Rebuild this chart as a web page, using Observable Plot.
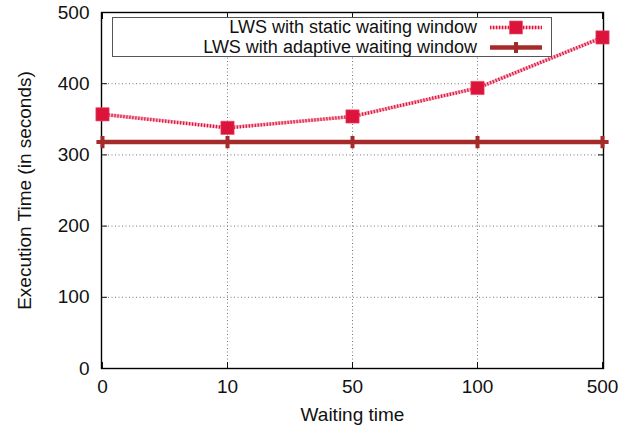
<!DOCTYPE html>
<html>
<head>
<meta charset="utf-8">
<script src="https://cdn.jsdelivr.net/npm/d3@7"></script>
<script src="https://cdn.jsdelivr.net/npm/@observablehq/plot@0.6"></script>
<style>
  html, body { margin: 0; padding: 0; background: #fff; }
  #wrap { position: relative; width: 619px; height: 430px; font-family: "Liberation Sans", Arial, sans-serif; }
  #legend { position: absolute; left: 112px; top: 17px; width: 440px; height: 40px; border: 1px solid #555; background: #fff; box-sizing: border-box; }
  .row { position: absolute; right: 74px; font-size: 18px; color: #111; white-space: nowrap; line-height: 19px; }
  .sw { position: absolute; }
</style>
</head>
<body>
<div id="wrap"></div>
<script>
const categories = ["0", "10", "50", "100", "500"];
const staticVals = [357, 338, 354, 394, 465];
const adaptiveVals = [318, 318, 318, 318, 318];
const yTicks = [0, 100, 200, 300, 400, 500];
const seriesNames = ["LWS with static waiting window", "LWS with adaptive waiting window"];

const staticColor = "#dc143c";
const staticLight = "#f7b0c0";
const adaptiveColor = "#a52a2a";

const staticData = categories.map((c, i) => ({x: c, y: staticVals[i]}));
const adaptiveData = categories.map((c, i) => ({x: c, y: adaptiveVals[i]}));

const font = "Liberation Sans, Arial, sans-serif";

const chart = Plot.plot({
  width: 619,
  height: 430,
  marginLeft: 101,
  marginRight: 16,
  marginTop: 12,
  marginBottom: 62,
  style: {fontFamily: font, fontSize: "19px", color: "#111", background: "#fff"},
  x: {type: "point", domain: categories, padding: 0, label: null},
  y: {domain: [0, 500], label: null},
  marks: [
    Plot.gridY(yTicks.slice(1, -1), {stroke: "#777", strokeOpacity: 1, strokeDasharray: "1,2.5"}),
    Plot.gridX(categories.slice(1, -1), {stroke: "#777", strokeOpacity: 1, strokeDasharray: "1,2.5"}),
    Plot.axisY(yTicks, {tickSize: -6, text: null}),
    Plot.axisY(yTicks, {anchor: "right", tickSize: -6, text: null}),
    Plot.axisX(categories, {tickSize: -6, text: null}),
    Plot.axisX(categories, {anchor: "top", tickSize: -6, text: null}),
    Plot.axisY(yTicks, {tickSize: 0, tickPadding: 12, fontSize: 19, label: "Execution Time (in seconds)", labelAnchor: "center", labelOffset: 84, labelArrow: "none"}),
    Plot.axisX(categories, {tickSize: 0, tickPadding: 11, fontSize: 19, label: "Waiting time", labelAnchor: "center", labelOffset: 52, labelArrow: "none"}),
    Plot.frame({stroke: "#000", strokeWidth: 1.4}),
    Plot.line(adaptiveData, {x: "x", y: "y", stroke: adaptiveColor, strokeWidth: 4.5}),
    Plot.dot(adaptiveData, {x: "x", y: "y", symbol: "plus", r: 4, stroke: adaptiveColor, strokeWidth: 4}),
    Plot.line(staticData, {x: "x", y: "y", stroke: staticLight, strokeWidth: 3.5, strokeLinecap: "butt"}),
    Plot.line(staticData, {x: "x", y: "y", stroke: staticColor, strokeWidth: 3.5, strokeLinecap: "butt", strokeDasharray: "1.2,1.8"}),
    Plot.dot(staticData, {x: "x", y: "y", symbol: "square", r: 7.5, fill: staticColor, stroke: "#e8506e", strokeWidth: 0.6})
  ]
});

const wrap = document.getElementById("wrap");
wrap.appendChild(chart);

// Legend inside the plot area
const legend = document.createElement("div");
legend.id = "legend";
const rows = [
  {name: seriesNames[0], top: 0, kind: "static"},
  {name: seriesNames[1], top: 19.5, kind: "adaptive"}
];
for (const r of rows) {
  const t = document.createElement("div");
  t.className = "row";
  t.style.top = r.top + "px";
  t.textContent = r.name;
  legend.appendChild(t);
  const ns = "http://www.w3.org/2000/svg";
  const sv = document.createElementNS(ns, "svg");
  sv.setAttribute("class", "sw");
  sv.setAttribute("width", 56);
  sv.setAttribute("height", 19);
  sv.style.left = "376px";
  sv.style.top = r.top + "px";
  if (r.kind === "static") {
    sv.innerHTML = `<line x1="1" x2="53" y1="9.5" y2="9.5" stroke="${staticLight}" stroke-width="3.5"/>
      <line x1="1" x2="53" y1="9.5" y2="9.5" stroke="${staticColor}" stroke-width="3.5" stroke-dasharray="1.2,1.8"/>
      <rect x="20.5" y="3" width="13" height="13" fill="${staticColor}" stroke="#e8506e" stroke-width="0.6"/>`;
  } else {
    sv.innerHTML = `<line x1="1" x2="53" y1="9.5" y2="9.5" stroke="${adaptiveColor}" stroke-width="4.5"/>
      <line x1="27" x2="27" y1="4" y2="15" stroke="${adaptiveColor}" stroke-width="4"/>`;
  }
  legend.appendChild(sv);
}
wrap.appendChild(legend);
</script>
</body>
</html>
